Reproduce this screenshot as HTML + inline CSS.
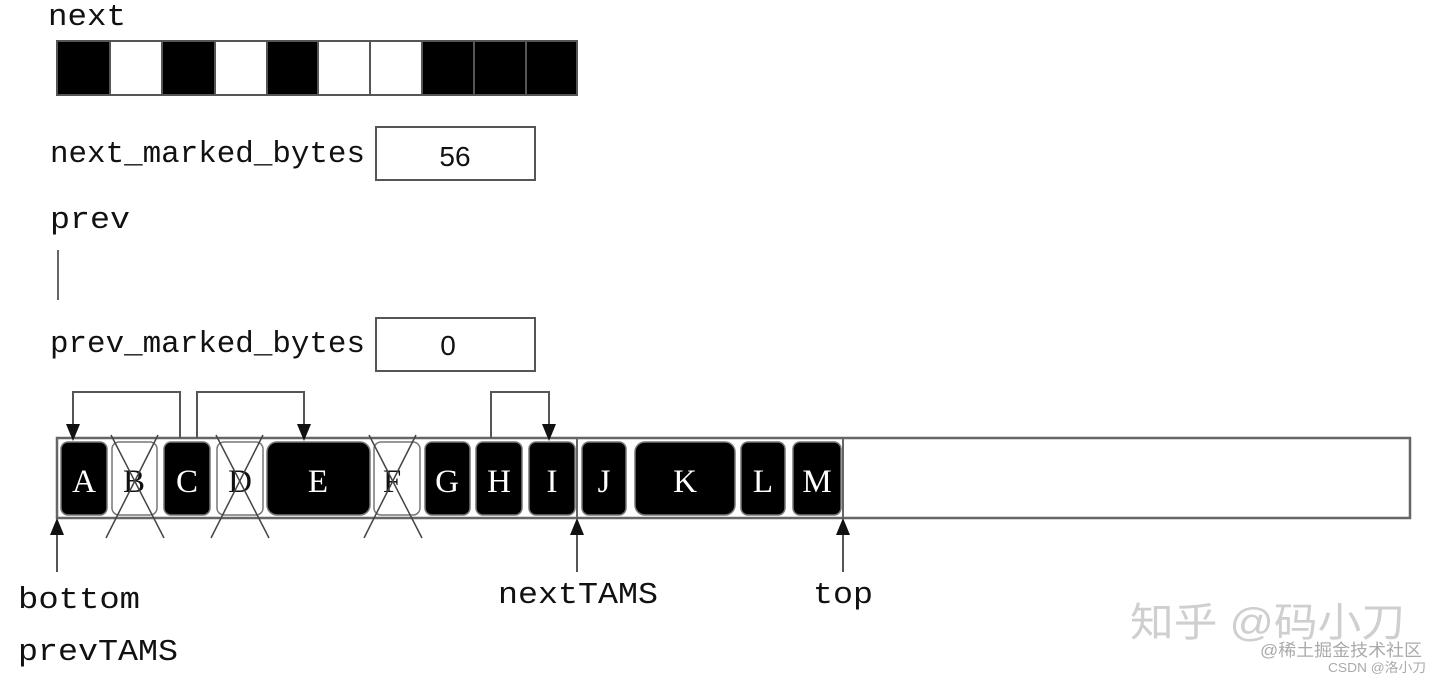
<!DOCTYPE html>
<html><head><meta charset="utf-8"><style>
html,body{margin:0;padding:0;background:#fff;}
svg{display:block;}
.m{font-family:"Liberation Mono","DejaVu Sans Mono",monospace;fill:#111;}
.s{font-family:"Liberation Serif",serif;fill:#fff;font-size:33px;text-anchor:middle;}
</style></head><body>
<svg width="1440" height="679" viewBox="0 0 1440 679" xmlns="http://www.w3.org/2000/svg">
<text class="m" x="48" y="25" font-size="31" textLength="78" lengthAdjust="spacingAndGlyphs">next</text>
<g stroke="#555" stroke-width="2">
<rect x="57" y="41" width="53" height="54" fill="#000"/>
<rect x="110" y="41" width="52" height="54" fill="#fff"/>
<rect x="162" y="41" width="53" height="54" fill="#000"/>
<rect x="215" y="41" width="52" height="54" fill="#fff"/>
<rect x="267" y="41" width="51" height="54" fill="#000"/>
<rect x="318" y="41" width="52" height="54" fill="#fff"/>
<rect x="370" y="41" width="52" height="54" fill="#fff"/>
<rect x="422" y="41" width="52" height="54" fill="#000"/>
<rect x="474" y="41" width="52" height="54" fill="#000"/>
<rect x="526" y="41" width="51" height="54" fill="#000"/>
</g>
<text class="m" x="50" y="162" font-size="31" textLength="315" lengthAdjust="spacingAndGlyphs">next_marked_bytes</text>
<rect x="376" y="127" width="159" height="53" fill="#fff" stroke="#555" stroke-width="2"/>
<text x="455" y="166" font-family="Liberation Sans,sans-serif" font-size="28" text-anchor="middle" fill="#111">56</text>
<text class="m" x="50" y="228" font-size="31" textLength="80" lengthAdjust="spacingAndGlyphs">prev</text>
<line x1="58" y1="250" x2="58" y2="300" stroke="#666" stroke-width="2"/>
<text class="m" x="50" y="352" font-size="31" textLength="315" lengthAdjust="spacingAndGlyphs">prev_marked_bytes</text>
<rect x="376" y="318" width="159" height="53" fill="#fff" stroke="#555" stroke-width="2"/>
<text x="448" y="355" font-family="Liberation Sans,sans-serif" font-size="28" text-anchor="middle" fill="#111">0</text>

<rect x="57" y="438" width="1353" height="80" fill="#fff" stroke="#666" stroke-width="2.5"/>
<line x1="577" y1="438" x2="577" y2="518" stroke="#666" stroke-width="2"/>
<line x1="843" y1="438" x2="843" y2="518" stroke="#666" stroke-width="2"/>
<g stroke="#777" stroke-width="1.5">
<rect x="61" y="442" width="46" height="73" rx="7" fill="#000"/>
<rect x="112" y="442" width="45" height="73" rx="7" fill="#fff"/>
<rect x="164" y="442" width="46" height="73" rx="7" fill="#000"/>
<rect x="217" y="442" width="46" height="73" rx="7" fill="#fff"/>
<rect x="267" y="442" width="103" height="73" rx="10" fill="#000"/>
<rect x="374" y="442" width="46" height="73" rx="7" fill="#fff"/>
<rect x="425" y="442" width="45" height="73" rx="7" fill="#000"/>
<rect x="476" y="442" width="46" height="73" rx="7" fill="#000"/>
<rect x="529" y="442" width="46" height="73" rx="7" fill="#000"/>
<rect x="582" y="442" width="44" height="73" rx="7" fill="#000"/>
<rect x="635" y="442" width="100" height="73" rx="10" fill="#000"/>
<rect x="741" y="442" width="44" height="73" rx="7" fill="#000"/>
<rect x="793" y="442" width="48" height="73" rx="7" fill="#000"/>
</g>
<text class="s" x="84" y="492">A</text>
<text class="s" x="134" y="492" style="fill:#111">B</text>
<text class="s" x="187" y="492">C</text>
<text class="s" x="240" y="492" style="fill:#111">D</text>
<text class="s" x="318" y="492">E</text>
<text class="s" x="392" y="492" style="fill:#111">F</text>
<text class="s" x="447" y="492">G</text>
<text class="s" x="499" y="492">H</text>
<text class="s" x="552" y="492">I</text>
<text class="s" x="604" y="492">J</text>
<text class="s" x="685" y="492">K</text>
<text class="s" x="763" y="492">L</text>
<text class="s" x="817" y="492">M</text>
<g stroke="#444" stroke-width="1.5">
<line x1="106" y1="538" x2="158" y2="435"/><line x1="111" y1="435" x2="164" y2="538"/>
<line x1="211" y1="538" x2="263" y2="435"/><line x1="216" y1="435" x2="269" y2="538"/>
<line x1="364" y1="538" x2="416" y2="435"/><line x1="369" y1="435" x2="422" y2="538"/>
</g>
<g fill="none" stroke="#555" stroke-width="2">
<path d="M180,438 V392 H73 V428"/>
<path d="M197,438 V392 H304 V428"/>
<path d="M491,438 V392 H549 V428"/>
<path d="M57,572 V530"/>
<path d="M577,572 V530"/>
<path d="M843,572 V530"/>
</g>
<g fill="#111">
<polygon points="66,424 80,424 73,441"/>
<polygon points="297,424 311,424 304,441"/>
<polygon points="542,424 556,424 549,441"/>
<polygon points="50,535 64,535 57,518"/>
<polygon points="570,535 584,535 577,518"/>
<polygon points="836,535 850,535 843,518"/>
</g>
<text class="m" x="18" y="608" font-size="31" textLength="122" lengthAdjust="spacingAndGlyphs">bottom</text>
<text class="m" x="18" y="660" font-size="31" textLength="160" lengthAdjust="spacingAndGlyphs">prevTAMS</text>
<text class="m" x="498" y="603" font-size="31" textLength="160" lengthAdjust="spacingAndGlyphs">nextTAMS</text>
<text class="m" x="813" y="603" font-size="31" textLength="60" lengthAdjust="spacingAndGlyphs">top</text>
<text x="1130" y="636" font-family="Liberation Sans,'Noto Sans CJK SC',sans-serif" font-size="40" fill="#cfcfcf" textLength="275" lengthAdjust="spacingAndGlyphs">知乎 @码小刀</text>
<text x="1260" y="656" font-family="Liberation Sans,'Noto Sans CJK SC',sans-serif" font-size="17" fill="#aaa" textLength="162" lengthAdjust="spacingAndGlyphs">@稀土掘金技术社区</text>
<text x="1328" y="672" font-family="Liberation Sans,'Noto Sans CJK SC',sans-serif" font-size="13" fill="#aaa" textLength="98" lengthAdjust="spacingAndGlyphs">CSDN @洛小刀</text>
</svg>
</body></html>
